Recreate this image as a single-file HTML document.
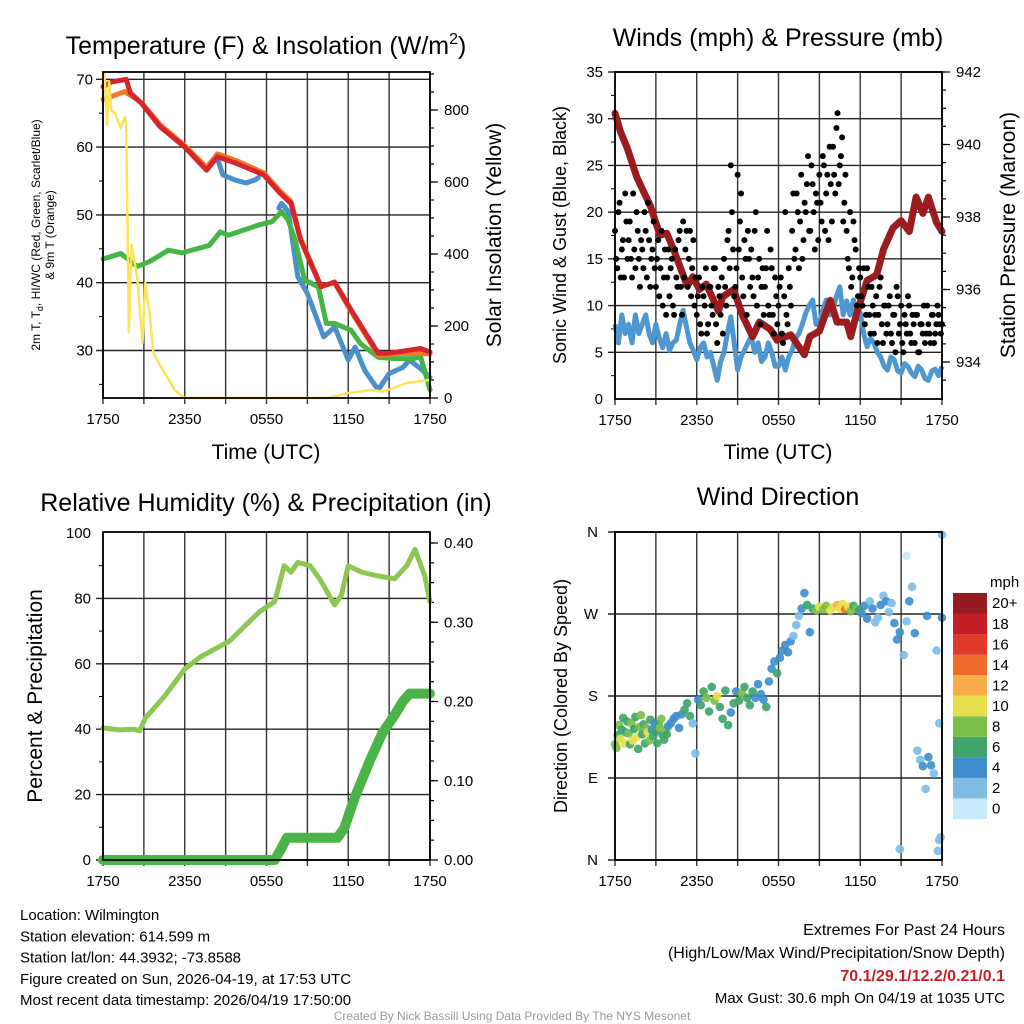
<!DOCTYPE html>
<html><head><meta charset="utf-8"><style>
html,body{margin:0;padding:0;background:#fff;}
svg{display:block;font-family:"Liberation Sans",Arial,sans-serif;}
</style></head><body>
<svg id="c" width="1024" height="1024" viewBox="0 0 1024 1024" xmlns="http://www.w3.org/2000/svg"></svg>
<script>
// ---------- DATA ----------
const xTickLabels = ["1750","2350","0550","1150","1750"];
// Panel 1: temperatures (hour, value)
const redHours = [0,0.6,1.7,2,2.8,4.2,6,7.6,8.4,9.8,11.8,13,13.8,14.5,16,17,18.2,20.2,20.9,22,23.3,24];
const redTemp  = [68.9,69.6,70,68,66.5,63,60,56.6,58.6,57.6,55.9,53.2,51.7,46.3,39.4,40.1,36,29.6,29.6,29.9,30.3,29.8];
const orangeHours = [0,1.6,2.8,4.2,6,7.6,8.4,9.8,11.8,13,13.8,14.5,16,17,18.2,20.2,22,24];
const orangeTemp  = [67,68.2,66.6,63.3,60.2,57,59,58,56.2,53.5,52,46.5,39.5,40,35.8,29.3,29.6,29.5];
const blueHours = [8.4,8.8,9.6,10.5,11.2,11.4,null,12.9,13.1,13.6,14.3,15,16.2,17,18,18.5,19.2,20.2,21,22,22.5,23.5,24];
const blueTemp  = [58.3,55.9,55.2,54.7,55.2,55.5,null,51,51.7,50.5,40.9,38.4,32,33.5,28.6,30.5,27.1,24.2,26.6,27.5,28.6,27,26];
const greenHours = [0,1.3,2.5,3.4,4.8,5.8,7.8,8.6,9.2,11.4,12.4,13.1,13.6,14.1,14.8,15.8,16.4,17,18.2,18.9,20.2,21.4,22.8,23.3,24];
const greenTemp  = [43.5,44.3,42.4,43.1,44.8,44.4,45.5,47.5,47,48.5,49,50.5,49.2,46.3,40.4,39.4,34,34,33,31,29,28.8,28.8,29.1,24.2];
const solarHours = [0,0.1,0.3,0.45,0.6,0.9,1.3,1.6,1.7,1.9,2.1,2.5,2.9,3.1,3.4,3.7,4.2,4.7,5.3,6,16.5,18,19.7,20.6,22.3,24];
const solarVal   = [900,905,760,880,800,790,750,780,760,184,425,337,153,320,240,125,90,59,20,0,0,14,22,18,42,50];
// Panel 2: pressure, wind, gust
const presHours = [0,0.4,0.9,1.6,2.6,3.3,3.8,4.3,5.3,5.7,6.2,6.7,7.6,7.9,8.7,9.4,10.1,10.6,11.4,11.9,12.9,13.9,14.3,15,15.8,16.3,17,17.3,17.7,18.5,19.2,19.7,20.4,21,21.6,22.1,22.6,23,23.6,24];
const presVal   = [940.86,940.35,939.9,939.1,938.3,937.5,937.55,937.1,936.1,936.35,936,936.15,935.4,935.8,936,935.25,934.7,935.1,934.9,934.6,934.75,934.2,934.7,934.85,935.7,935.1,935.1,934.7,935.3,936.25,936.4,937.1,937.7,937.9,937.6,938.55,938.1,938.55,937.85,937.6];
const windVal = [8,6,9,7,8,6,9,7,8,9,7,6,8,6.5,5.5,7,5.2,6,6.3,8,9.5,7.7,6,5.2,4.2,5.5,6,4.5,5,3.5,2,4,5,7,8.8,6,3.1,4.5,5.2,6,6.7,5,6,4,4.5,6,5,3.5,3.5,4.5,3.1,4.5,5.2,6.5,7,8,9.2,10,10.6,8,8.1,9.5,10.6,9,9.5,11,12,9,10.5,9,10.6,8.5,9.2,7,5.6,6.5,6,5,4.5,3.5,3.1,4.5,4.2,3,2.8,3.8,3.5,2.8,2.4,3.5,3.1,2.2,2,3,3.2,2.5,3.5];
const gustVal = [18,14,21,16,13,19, 17,15,22,14,18,12, 16,20,13,17,15,19, 12,17,14,10,16,13, 11,15,9,13,17,12, 19,16,12,18,14,10, 9,13,7,11,14,8, 12,9,14,6,11,13, 15,10,18,25,16,12, 24,19,13,17,9,15, 16,11,20,13,8,14, 12,18,9,14,7,11, 10,13,6,20,8,12, 18,15,22,14,24,17, 20,26,18,23,16,21, 24,19,25,22,17,23, 27,22,30.6,25,28,21, 18,14,12,19,16,11, 13,10,8,14,9,12, 7,11,9,13,6,10, 8,11,6,9,12,7, 10,5,8,11,7,9, 6,9,5,8,10,7, 8,6,9,7,10,8, 8];
const gustVal2 = [15,20,13,17,22,15, 19,13,16,20,15,17, 14,18,21,12,16,14, 15,11,18,13,9,16, 14,10,16,12,18,9, 13,18,15,11,17,13, 11,8,12,10,7,12, 10,14,8,12,9,7, 12,17,14,20,11,14, 16,22,11,15,18,12, 13,18,10,15,12,9, 14,10,16,9,13,8, 12,7,11,9,14,10, 22,16,20,19,15,21, 23,18,25,20,22,17, 21,26,18,24,27,19, 24,29,23,26,19,24, 15,20,13,17,10,14, 11,14,9,12,7,10, 9,6,12,8,10,7, 10,7,9,5,11,8, 6,9,7,10,6,8, 9,5,8,7,6,10, 7,9,6,8,9,7, 7];
// Panel 3: RH and precip
const rhHours = [0,1.2,2.3,2.7,3.1,4.5,6,7.1,9.3,11.5,12.6,13.3,13.8,14.3,15.2,15.9,17,17.5,18,19,20,21.4,22.3,22.9,23.6,24];
const rhVal   = [40.4,39.8,40,39.5,43.4,50,58.4,62,67,76,79,90,88,91,90,86,78,81,90,88,87,86,90,95,87,79];
const prHours = [0,12.6,13.1,13.5,17.2,17.7,18.5,19.6,20.5,21.4,22,22.5,24];
const prVal   = [0,0,0.015,0.028,0.028,0.04,0.08,0.126,0.16,0.183,0.2,0.21,0.21];
// Panel 4: direction scatter
const dirHour = [0,0.1,0.2,0.3,0.4,0.5,0.6,0.7,0.8,0.9,1.0,1.1,1.2,1.3,1.4,1.5,1.6,1.7,1.8,1.9,2.0,2.1,2.2,2.3,2.4,2.5,2.6,2.7,2.8,2.9,3.0,3.1,3.2,3.3,3.4,3.5,3.6,3.7,3.8,3.9,
4.1,4.3,4.5,4.7,4.9,5.1,5.3,5.5,5.7,5.9,6.1,6.3,6.5,6.7,6.9,7.1,7.3,7.5,7.7,7.9,8.1,8.3,8.5,8.7,8.9,
9.1,9.3,9.5,9.7,9.9,10.1,10.3,10.5,10.7,10.9,11.1,11.3,11.5,11.7,11.9,
12.1,12.3,12.5,12.7,12.9,13.1,13.3,13.5,13.7,13.9,14.1,14.3,
14.5,14.8,15.0,15.3,15.5,15.8,16.0,16.3,16.5,16.7,16.9,17.1,17.3,17.5,17.7,17.9,
18.1,18.3,18.5,18.7,18.9,19.1,19.3,19.5,19.7,19.9,20.1,20.3,20.5,20.7,20.9,
21.2,21.4,21.6,21.8,22.0,22.2,22.4,22.6,22.8,23.0,23.2,23.4,23.6,23.8,24.0,24.0,23.9,23.8,23.7,20.9,21.4,22.9];
const dirDeg = [127,123,137,148,133,143,156,128,140,152,139,127,150,131,144,157,135,122,146,159,138,149,128,145,140,131,154,143,136,150,141,128,149,145,155,137,132,142,138,147,
150,155,158,145,160,165,172,158,150,117,176,170,185,178,163,190,175,180,168,155,186,148,162,172,185,
175,183,190,178,170,185,178,193,182,176,168,196,210,218,205,
222,230,236,228,240,246,258,268,276,293,280,250,
276,274,278,275,279,274,277,280,276,281,275,278,273,279,276,274,
271,279,265,284,276,261,266,280,290,284,272,282,260,242,250,
225,262,284,300,249,120,110,103,78,113,104,95,230,150,266,357,25,22,10,12,334,268];
const dirSpd = [9,8,7,8,10,6,7,10,6,7,9,6,8,10,7,6,10,7,8,9,6,7,6,8,10,8,6,5,7,4,6,6,6,9,8,7,6,8,6,4,
4,4,4,5,4,6,6,6,2,3,4,6,6,8,6,6,8,10,7,6,7,6,4,7,4,
6,8,6,6,6,6,4,4,4,4,6,4,4,4,6,
4,4,4,4,4,2,2,2,4,4,6,4,
6,8,10,8,8,10,10,12,10,10,14,10,8,6,8,6,
4,4,4,2,4,2,2,4,2,4,2,2,4,4,4,
2,2,4,2,4,2,2,4,2,4,4,2,2,2,4,2,2,2,2,2,0,4];
const cbLabels = ["0","2","4","6","8","10","12","14","16","18","20+"];
const cbColors = ["#c8e9fa","#7fbde6","#3f8ecb","#3fa56b","#7cc04a","#e7df4c","#f8ad48","#ef6b2c","#df3b2b","#c21e27","#971b1f"];

// ---------- HELPERS ----------
const NS="http://www.w3.org/2000/svg";
const svg=document.getElementById('c');
function el(tag,attrs,parent){const e=document.createElementNS(NS,tag);for(const k in attrs)e.setAttribute(k,attrs[k]);(parent||svg).appendChild(e);return e;}
function txt(s,x,y,size,anchor,parent,extra){const t=el('text',Object.assign({x:x,y:y,'font-size':size,'text-anchor':anchor||'middle',fill:'#000'},extra||{}),parent);t.textContent=s;return t;}
function lin(d0,d1,r0,r1){return v=>r0+(v-d0)*(r1-r0)/(d1-d0);}
function pathFrom(xs,ys,sx,sy){let d='',pen=false;for(let i=0;i<xs.length;i++){if(xs[i]===null||ys[i]===null){pen=false;continue;}d+=(pen?'L':'M')+sx(xs[i]).toFixed(1)+','+sy(ys[i]).toFixed(1);pen=true;}return d;}

function frame(g,L,T,R,B,sx,hGrid,sy){
  for(let h=0;h<=24;h+=3){const x=sx(h);el('line',{x1:x,y1:T,x2:x,y2:B+6,stroke:'#333','stroke-width':1.4},g);}
  hGrid.forEach(v=>{const y=sy(v);el('line',{x1:L-7,y1:y,x2:R,y2:y,stroke:'#222','stroke-width':1.4},g);});
}
function border(g,L,T,R,B){el('rect',{x:L,y:T,width:R-L,height:B-T,fill:'none',stroke:'#000','stroke-width':1.8},g);}
function xLabels(g,sx,B){xTickLabels.forEach((s,i)=>{txt(s,sx(i*6),B+26,15,'middle',g);});}
function ticksLeft(g,L,sy,vals,len){vals.forEach(v=>el('line',{x1:L-len,y1:sy(v),x2:L,y2:sy(v),stroke:'#000','stroke-width':1},g));}
function ticksRight(g,R,sy,vals,len){vals.forEach(v=>el('line',{x1:R,y1:sy(v),x2:R+len,y2:sy(v),stroke:'#000','stroke-width':1.2},g));}
function range(a,b,s){const r=[];for(let v=a;v<=b+1e-9;v+=s)r.push(+v.toFixed(4));return r;}

// ---------- PANEL 1 ----------
(function(){
const g=el('g',{});


const L=103,R=430,T=72,B=398;
const sx=lin(0,24,L,R), sy=lin(70,30,79.3,350.5), sr=lin(0,800,398,110);
frame(g,L,T,R,B,sx,[70,60,50,40,30],sy);
ticksLeft(g,L,sy,[25,35,45,55,65],4);
ticksRight(g,R,sr,range(50,900,50),4);
ticksRight(g,R,sr,range(0,800,200),8);
const lines=[[blueHours,blueTemp,'#4b90c9',5,sy,'heat-index-line'],[greenHours,greenTemp,'#45b545',5,sy,'dewpoint-line'],[orangeHours,orangeTemp,'#f0782a',5,sy,'temp-9m-line'],[redHours,redTemp,'#d7262b',5,sy,'temp-2m-line'],[solarHours,solarVal,'#fbe45a',2.5,sr,'solar-line']];
lines.forEach(l=>{const p=el('path',{d:pathFrom(l[0],l[1],sx,l[4]),fill:'none',stroke:l[2],'stroke-width':l[3],'stroke-linejoin':'round','stroke-linecap':'round'},g);

});
border(g,L,T,R,B);
[70,60,50,40,30].forEach(v=>txt(String(v),L-10,sy(v)+5,15,'end',g));
[0,200,400,600,800].forEach(v=>txt(String(v),R+14,sr(v)+5,15,'start',g));
xLabels(g,sx,B);
const t=txt('',266,54,25,'middle',g);t.innerHTML='Temperature (F) &amp; Insolation (W/m<tspan dy="-10" font-size="16">2</tspan><tspan dy="10">)</tspan>';


txt('Time (UTC)',266,459,21,'middle',g);
const yl=el('g',{transform:'translate(40,235) rotate(-90)'},g);
const l1=txt('',0,0,12,'middle',yl);l1.innerHTML='2m T, T<tspan dy="3" font-size="9">d</tspan><tspan dy="-3">, HI/WC (Red, Green, Scarlet/Blue)</tspan>';
txt('& 9m T (Orange)',0,14,12,'middle',yl);
txt('Solar Insolation (Yellow)',0,0,21,'middle',el('g',{transform:'translate(501,235) rotate(-90)'},g));
})();

// ---------- PANEL 2 ----------
(function(){
const g=el('g',{});


const L=615,R=942,T=72,B=399;
const sx=lin(0,24,L,R), sy=lin(0,35,399,72), sp=lin(934,942,362,72);
frame(g,L,T,R,B,sx,[35,30,25,20,15,10,5],sy);
ticksLeft(g,L,sy,range(2.5,32.5,5),4);
ticksRight(g,R,sp,range(933.5,942,0.5),4);
ticksRight(g,R,sp,range(934,942,2),8);
const wh=windVal.map((v,i)=>i*24/(windVal.length-1));
const w=el('path',{d:pathFrom(wh,windVal,sx,sy),fill:'none',stroke:'#4f97d0','stroke-width':5,'stroke-linejoin':'round'},g);


const p=el('path',{d:pathFrom(presHours,presVal,sx,sp),fill:'none',stroke:'#9b1b1e','stroke-width':7,'stroke-linejoin':'round','stroke-linecap':'round'},g);


[gustVal,gustVal2].forEach((arr,k)=>arr.forEach((v,i)=>{const h=(i+k*0.5)*24/(arr.length-1);if(h>24)return;
const c=el('circle',{cx:sx(h),cy:sy(v),r:3,fill:'#000'},g);

}));
border(g,L,T,R,B);
range(0,35,5).forEach(v=>txt(String(v),L-12,sy(v)+5,15,'end',g));
range(934,942,2).forEach(v=>txt(String(v),R+14,sp(v)+5,15,'start',g));
xLabels(g,sx,B);
txt('Winds (mph) & Pressure (mb)',778,46,25,'middle',g);
txt('Time (UTC)',778,459,21,'middle',g);
txt('Sonic Wind & Gust (Blue, Black)',0,0,18,'middle',el('g',{transform:'translate(566,235) rotate(-90)'},g));
txt('Station Pressure (Maroon)',0,0,21,'middle',el('g',{transform:'translate(1015,235) rotate(-90)'},g));
})();

// ---------- PANEL 3 ----------
(function(){
const g=el('g',{});


const L=103,R=430,T=532,B=860;
const sx=lin(0,24,L,R), sy=lin(0,100,860,533), sr=lin(0,0.4,860,543);
frame(g,L,T,R,B,sx,[80,60,40,20,0],sy);
ticksLeft(g,L,sy,range(10,90,20),4);
ticksRight(g,R,sr,range(0.025,0.4,0.025),4);
ticksRight(g,R,sr,range(0,0.4,0.1),8);
const rh=el('path',{d:pathFrom(rhHours,rhVal,sx,sy),fill:'none',stroke:'#8cc751','stroke-width':5,'stroke-linejoin':'round','stroke-linecap':'round'},g);


const pr=el('path',{d:pathFrom(prHours,prVal,sx,sr),fill:'none',stroke:'#4bb449','stroke-width':10,'stroke-linejoin':'round','stroke-linecap':'round'},g);


border(g,L,T,R,B);
range(0,100,20).forEach(v=>txt(String(v),L-12,sy(v)+5,15,'end',g));
range(0,0.4,0.1).forEach(v=>txt(v.toFixed(2),R+14,sr(v)+5,15,'start',g));
xLabels(g,sx,B);
txt('Relative Humidity (%) & Precipitation (in)',266,511,25,'middle',g);
txt('Percent & Precipitation',0,0,21,'middle',el('g',{transform:'translate(42,696) rotate(-90)'},g));
})();

// ---------- PANEL 4 ----------
(function(){
const g=el('g',{});


const L=615,R=942,T=532,B=860;
const sx=lin(0,24,L,R), sy=lin(0,360,860,532);
frame(g,L,T,R,B,sx,[0,90,180,270,360],sy);
dirHour.forEach((h,i)=>{const bin=Math.min(10,Math.floor(dirSpd[i]/2));
const c=el('circle',{cx:sx(h),cy:sy(dirDeg[i]),r:4.3,fill:cbColors[bin],'fill-opacity':0.92},g);

});
border(g,L,T,R,B);
[['N',0],['E',90],['S',180],['W',270],['N',360]].forEach(d=>txt(d[0],L-17,sy(d[1])+5,15,'end',g));
xLabels(g,sx,B);
txt('Wind Direction',778,505,25,'middle',g);
txt('Direction (Colored By Speed)',0,0,18,'middle',el('g',{transform:'translate(567,696) rotate(-90)'},g));
const cb=el('g',{},g);


const bh=20.55, by=819;
cbColors.forEach((c,i)=>{const r=el('rect',{x:953,y:by-(i+1)*bh,width:34,height:bh,fill:c},cb);


txt(cbLabels[i],992,by-(i+0.5)*bh+5,15,'start',cb);});
txt('mph',990,587,15,'start',cb);
})();

// ---------- FOOTER ----------
(function(){
const g=el('g',{});


["Location: Wilmington","Station elevation: 614.599 m","Station lat/lon: 44.3932; -73.8588","Figure created on Sun, 2026-04-19, at 17:53 UTC","Most recent data timestamp: 2026/04/19 17:50:00"].forEach((s,i)=>txt(s,20,920+i*21.3,15,'start',g));
const r=el('g',{});


txt('Extremes For Past 24 Hours',1005,935,16,'end',r);
txt('(High/Low/Max Wind/Precipitation/Snow Depth)',1005,958,16,'end',r);
txt('70.1/29.1/12.2/0.21/0.1',1005,981,16,'end',r,{fill:'#cc1f25','font-weight':'bold'});
txt('Max Gust: 30.6 mph On 04/19 at 1035 UTC',1005,1003,15,'end',r);
txt('Created By Nick Bassill Using Data Provided By The NYS Mesonet',512,1020,12,'middle',svg,{fill:'#999'});
})();
</script>
</body></html>
